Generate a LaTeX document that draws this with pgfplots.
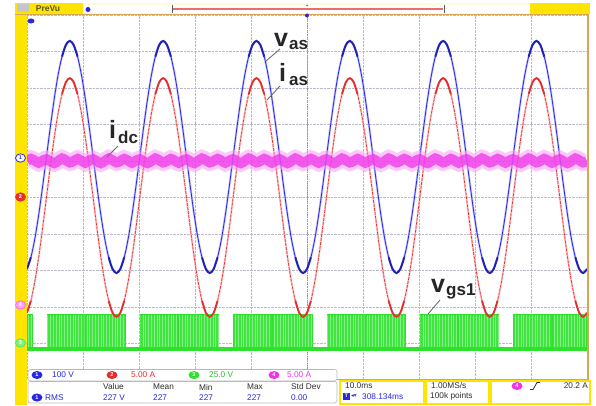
\documentclass[border=0pt]{standalone}
\usepackage{pgfplots}
\pgfplotsset{compat=1.18}
\usepackage{pgfplotstable}
\usepackage{fontspec}
\setmainfont{Liberation Sans}
\newfontfamily\dejavu{DejaVu Sans}
\usetikzlibrary{patterns.meta}

\definecolor{tkblue}{RGB}{40,40,225}
\definecolor{tkbluel}{RGB}{160,160,250}
\definecolor{tkred}{RGB}{230,45,45}
\definecolor{tkredl}{RGB}{250,170,170}
\definecolor{tkmag}{RGB}{240,50,235}
\definecolor{tkmagl}{RGB}{250,160,245}
\definecolor{tkgreen}{RGB}{45,225,45}
\definecolor{tkgreenl}{RGB}{130,240,130}
\definecolor{tkyellow}{RGB}{255,228,0}
\definecolor{tktan}{RGB}{215,165,85}
\definecolor{hdr}{RGB}{255,250,215}
\definecolor{gridc}{RGB}{185,185,200}
\definecolor{lead}{RGB}{110,110,110}
\definecolor{txt}{RGB}{45,45,45}

\pgfplotstableread{
t vas ias idc
0 3.04 1.84 6.00
15 3.36 2.17 6.06
30 3.86 2.69 6.01
45 4.52 3.36 5.95
60 5.29 4.15 6.01
75 6.11 5.00 6.05
90 6.93 5.85 5.99
105 7.70 6.64 5.94
120 8.36 7.31 6.00
135 8.86 7.83 6.07
150 9.18 8.16 6.02
165 9.29 8.27 5.96
180 9.18 8.16 6.00
195 8.86 7.83 6.06
210 8.36 7.31 6.01
225 7.70 6.64 5.95
240 6.93 5.85 6.01
255 6.11 5.00 6.05
270 5.29 4.15 5.99
285 4.52 3.36 5.94
300 3.86 2.69 6.00
315 3.36 2.17 6.07
330 3.04 1.84 6.02
345 2.93 1.73 5.96
360 3.04 1.84 6.00
375 3.36 2.17 6.06
390 3.86 2.69 6.01
405 4.52 3.36 5.95
420 5.29 4.15 6.01
435 6.11 5.00 6.05
450 6.93 5.85 5.99
465 7.70 6.64 5.94
480 8.36 7.31 6.00
495 8.86 7.83 6.07
510 9.18 8.16 6.02
525 9.29 8.27 5.96
540 9.18 8.16 6.00
555 8.86 7.83 6.06
570 8.36 7.31 6.01
585 7.70 6.64 5.95
600 6.93 5.85 6.01
615 6.11 5.00 6.05
630 5.29 4.15 5.99
645 4.52 3.36 5.94
660 3.86 2.69 6.00
675 3.36 2.17 6.07
690 3.04 1.84 6.02
705 2.93 1.73 5.96
720 3.04 1.84 6.00
735 3.36 2.17 6.06
750 3.86 2.69 6.01
765 4.52 3.36 5.95
780 5.29 4.15 6.01
795 6.11 5.00 6.05
810 6.93 5.85 5.99
825 7.70 6.64 5.94
840 8.36 7.31 6.00
855 8.86 7.83 6.07
870 9.18 8.16 6.02
885 9.29 8.27 5.96
900 9.18 8.16 6.00
915 8.86 7.83 6.06
930 8.36 7.31 6.01
945 7.70 6.64 5.95
960 6.93 5.85 6.01
975 6.11 5.00 6.05
990 5.29 4.15 5.99
1005 4.52 3.36 5.94
1020 3.86 2.69 6.00
1035 3.36 2.17 6.07
1050 3.04 1.84 6.02
1065 2.93 1.73 5.96
1080 3.04 1.84 6.00
1095 3.36 2.17 6.06
1110 3.86 2.69 6.01
1125 4.52 3.36 5.95
1140 5.29 4.15 6.01
1155 6.11 5.00 6.05
1170 6.93 5.85 5.99
1185 7.70 6.64 5.94
1200 8.36 7.31 6.00
1215 8.86 7.83 6.07
1230 9.18 8.16 6.02
1245 9.29 8.27 5.96
1260 9.18 8.16 6.00
1275 8.86 7.83 6.06
1290 8.36 7.31 6.01
1305 7.70 6.64 5.95
1320 6.93 5.85 6.01
1335 6.11 5.00 6.05
1350 5.29 4.15 5.99
1365 4.52 3.36 5.94
1380 3.86 2.69 6.00
1395 3.36 2.17 6.07
1410 3.04 1.84 6.02
1425 2.93 1.73 5.96
1440 3.04 1.84 6.00
1455 3.36 2.17 6.06
1470 3.86 2.69 6.01
1485 4.52 3.36 5.95
1500 5.29 4.15 6.01
1515 6.11 5.00 6.05
1530 6.93 5.85 5.99
1545 7.70 6.64 5.94
1560 8.36 7.31 6.00
1575 8.86 7.83 6.07
1590 9.18 8.16 6.02
1605 9.29 8.27 5.96
1620 9.18 8.16 6.00
1635 8.86 7.83 6.06
1650 8.36 7.31 6.01
1665 7.70 6.64 5.95
1680 6.93 5.85 6.01
1695 6.11 5.00 6.05
1710 5.29 4.15 5.99
1725 4.52 3.36 5.94
1740 3.86 2.69 6.00
1755 3.36 2.17 6.07
1770 3.04 1.84 6.02
1785 2.93 1.73 5.96
1800 3.04 1.84 6.00
1815 3.36 2.17 6.06
1830 3.86 2.69 6.01
1845 4.52 3.36 5.95
1860 5.29 4.15 6.01
1875 6.11 5.00 6.05
1890 6.93 5.85 5.99
1905 7.70 6.64 5.94
1920 8.36 7.31 6.00
1935 8.86 7.83 6.07
1950 9.18 8.16 6.02
1965 9.29 8.27 5.96
1980 9.18 8.16 6.00
1995 8.86 7.83 6.06
2010 8.36 7.31 6.01
2025 7.70 6.64 5.95
2040 6.93 5.85 6.01
2055 6.11 5.00 6.05
2070 5.29 4.15 5.99
2085 4.52 3.36 5.94
2100 3.86 2.69 6.00
2115 3.36 2.17 6.07
2130 3.04 1.84 6.02
2145 2.93 1.73 5.96
2160 3.04 1.84 6.00
}\traces

\pgfplotstableread{
t v
0 0.85
0 1.78
20 0.85
78 1.78
222 0.85
226 1.78
380 0.85
438 1.78
582 0.85
586 1.78
740 0.85
798 1.78
942 0.85
946 1.78
1100 0.85
1158 1.78
1302 0.85
1306 1.78
1460 0.85
1518 1.78
1662 0.85
1666 1.78
1820 0.85
1878 1.78
2022 0.85
2026 1.78
2160 0.85
}\gate

\newcommand\chip[4]{\fill[#3] (#1,#2) ellipse (5.5pt and 4pt);
  \node[text=white,inner sep=0,font=\fontsize{5.5}{5.5}\selectfont\bfseries] at (#1,#2) {#4};}

\begin{document}
\begin{tikzpicture}
\useasboundingbox (0,0) rectangle (596pt,405pt);
\fill[white] (0,0) rectangle (596pt,405pt);
\begin{axis}[at={(27pt,25pt)}, anchor=south west, scale only axis,
  width=560pt, height=365pt, xmin=0, xmax=2160, ymin=0, ymax=10,
  xtick={0,216,...,2160}, ytick={0,1,...,10},
  xticklabels={}, yticklabels={}, major tick length=0pt,
  grid=major, grid style={gridc, densely dotted, line width=0.7pt},
  axis line style={draw=none}]
\draw[tkblue!55, densely dotted, line width=0.8pt] (axis cs:1080,0) -- (axis cs:1080,10);
% gate signal vgs1
\addplot[const plot, fill=tkgreen!90!white, draw=tkgreen, line width=1.2pt] table[x=t,y=v] {\gate};
\addplot[const plot, draw=none, pattern={Lines[angle=90,distance=2.8pt,line width=0.35pt]}, pattern color=tkgreenl] table[x=t,y=v] {\gate};
\addplot[tkgreen, line width=3.2pt] coordinates {(0,0.85) (2160,0.85)};
% vas
\addplot[smooth, tkbluel, line width=2.2pt, opacity=0.6] table[x=t,y=vas] {\traces};
\addplot[smooth, tkblue, line width=0.8pt] table[x=t,y=vas] {\traces};
\addplot[smooth, tkblue!80!black, line width=1.9pt, restrict y to domain=8.8:10, unbounded coords=jump] table[x=t,y=vas] {\traces};
\addplot[smooth, tkblue!80!black, line width=1.9pt, restrict y to domain=0:3.4, unbounded coords=jump] table[x=t,y=vas] {\traces};
% ias
\addplot[smooth, tkredl, line width=2pt, opacity=0.6] table[x=t,y=ias] {\traces};
\addplot[smooth, tkred, line width=0.7pt, dash pattern=on 3pt off 1pt] table[x=t,y=ias] {\traces};
\addplot[smooth, tkred, line width=1.8pt, restrict y to domain=7.8:10, unbounded coords=jump] table[x=t,y=ias] {\traces};
\addplot[smooth, tkred, line width=1.8pt, restrict y to domain=0:2.2, unbounded coords=jump] table[x=t,y=ias] {\traces};
% idc
\addplot[smooth, tkmagl, line width=17pt, opacity=0.55] table[x=t,y=idc] {\traces};
\addplot[smooth, tkmag, line width=10pt, opacity=0.75] table[x=t,y=idc] {\traces};
\end{axis}

\begin{scope}[x=1pt,y=-1pt,yshift=405pt, font=\fontsize{8.3}{9}\selectfont]
% left strip
\fill[tkyellow] (15,3) rectangle (27,405);
% header bar
\fill[hdr] (83,3) rectangle (590,14);
\fill[white] (83,5.5) rectangle (530,13);
\fill[tkyellow] (15,3) rectangle (83,14);
\fill[tkyellow] (530,3.5) rectangle (590,14);
\fill[gray!45] (16.5,4.5) rectangle (29,12.5);
\node[inner sep=0, text=olive!50!black, font=\fontsize{8.5}{8.5}\selectfont\bfseries] at (48,8.5) {PreVu};
\draw[tkred!70, line width=2pt] (173,9.5) -- (443,9.5);
\draw[gray!70!black, line width=0.9pt] (172,5) -- (172,13.5) (444,5) -- (444,13.5);
\fill[tkblue] (88,9.5) circle (2.5pt);
\draw[tktan, line width=1.3pt] (15,14.5) -- (589,14.5);
\draw[tktan, line width=1.2pt] (588,14.5) -- (588,380);
\fill[gray] (307,5.5) circle (1pt);
\fill[tkblue] (307,15.5) circle (2pt);
\fill[tkblue] (31,21) ellipse (3.5pt and 2.5pt);
% left channel markers
\filldraw[fill=white, draw=tkblue, line width=0.8pt] (20.5,158) ellipse (5pt and 4.2pt);
\node[text=tkblue, font=\fontsize{5.5}{5.5}\selectfont\bfseries, inner sep=0] at (20.5,158) {1};
\filldraw[fill=tkred, draw=tkred, line width=0.8pt] (20.5,197) ellipse (5pt and 4.2pt);
\node[text=white, font=\fontsize{5.5}{5.5}\selectfont\bfseries, inner sep=0] at (20.5,197) {2};
\filldraw[fill=tkmagl, draw=tkmag!70, line width=0.8pt] (20.5,305) ellipse (5pt and 4.2pt);
\node[text=white, font=\fontsize{5.5}{5.5}\selectfont\bfseries, inner sep=0] at (20.5,305) {4};
\filldraw[fill=tkgreenl, draw=tkgreen!80, line width=0.8pt] (20.5,343) ellipse (5pt and 4.2pt);
\node[text=white, font=\fontsize{5.5}{5.5}\selectfont\bfseries, inner sep=0] at (20.5,343) {3};
% trace labels
\node[anchor=base west, inner sep=0, font=\fontsize{25}{25}\selectfont\bfseries, text=black!85] at (274,47) {v};
\node[anchor=base west, inner sep=0, font=\fontsize{17}{17}\selectfont\bfseries, text=black!85] at (289,50) {as};
\draw[lead, line width=0.9pt] (280,49) -- (266,61);
\node[anchor=base west, inner sep=0, font=\fontsize{25}{25}\selectfont\bfseries, text=black!85] at (279,82) {i};
\node[anchor=base west, inner sep=0, font=\fontsize{17}{17}\selectfont\bfseries, text=black!85] at (289,86) {as};
\draw[lead, line width=0.9pt] (280,86) -- (267,100);
\node[anchor=base west, inner sep=0, font=\fontsize{25}{25}\selectfont\bfseries, text=black!85] at (109,138) {i};
\node[anchor=base west, inner sep=0, font=\fontsize{17}{17}\selectfont\bfseries, text=black!85] at (118,143) {dc};
\draw[lead, line width=0.9pt] (118,146) -- (107,157);
\node[anchor=base west, inner sep=0, font=\fontsize{25}{25}\selectfont\bfseries, text=black!85] at (431,292) {v};
\node[anchor=base west, inner sep=0, font=\fontsize{17}{17}\selectfont\bfseries, text=black!85] at (446,295) {gs1};
\draw[lead, line width=0.9pt] (440,300) -- (428,314);
% bottom panel
\fill[white] (27,380) rectangle (596,405);
\filldraw[fill=white, draw=gray!55, rounded corners=2.5pt, line width=0.6pt] (28,369.5) rectangle (337,381);
\draw[tktan, line width=1pt] (337,379.5) -- (588,379.5);
\draw[gray!55, rounded corners=2.5pt, line width=0.6pt] (28,381.5) rectangle (337,403);
\draw[tkyellow, line width=2pt] (340,381) rectangle (424,404);
\draw[tkyellow, line width=2pt] (426,381) rectangle (489,404);
\draw[tkyellow, line width=2pt] (491,381) rectangle (590,404);
% channel settings
\chip{37}{375}{tkblue}{1}
\node[anchor=west, text=tkblue, inner sep=0] at (52,375) {100 V};
\chip{112}{375}{tkred}{2}
\node[anchor=west, text=tkred, inner sep=0] at (131,375) {5.00 A};
\chip{194}{375}{tkgreen}{3}
\node[anchor=west, text=tkgreen!85!black, inner sep=0] at (209,375) {25.0 V};
\chip{274}{375}{tkmag}{4}
\node[anchor=west, text=tkmag, inner sep=0] at (287,375) {5.00 A};
% measurement
\chip{37}{397.5}{tkblue}{1}
\node[anchor=west, text=tkblue, inner sep=0] at (45,397.5) {RMS};
\node[anchor=west, text=txt, inner sep=0] at (103,387) {Value};
\node[anchor=west, text=txt, inner sep=0] at (153,387) {Mean};
\node[anchor=west, text=txt, inner sep=0] at (199,387) {Min};
\node[anchor=west, text=txt, inner sep=0] at (247,387) {Max};
\node[anchor=west, text=txt, inner sep=0] at (291,387) {Std Dev};
\node[anchor=west, text=tkblue, inner sep=0] at (103,397.5) {227 V};
\node[anchor=west, text=tkblue, inner sep=0] at (153,397.5) {227};
\node[anchor=west, text=tkblue, inner sep=0] at (199,397.5) {227};
\node[anchor=west, text=tkblue, inner sep=0] at (247,397.5) {227};
\node[anchor=west, text=tkblue, inner sep=0] at (291,397.5) {0.00};
% time base
\node[anchor=west, text=txt, inner sep=0] at (345,386) {10.0ms};
\fill[tkblue] (343,392.5) rectangle (350,399.5);
\node[text=white, inner sep=0, font=\fontsize{5}{5}\selectfont\bfseries] at (346.5,396) {T};
\node[anchor=west, text=tkblue, inner sep=0, font=\dejavu\fontsize{5.5}{5.5}\selectfont] at (351,396) {◂▾};
\node[anchor=west, text=tkblue, inner sep=0] at (362,396.5) {308.134ms};
\node[anchor=west, text=txt, inner sep=0] at (431,386) {1.00MS/s};
\node[anchor=west, text=txt, inner sep=0] at (430,396.5) {100k points};
\chip{517}{386}{tkmag}{4}
\draw[txt, line width=0.8pt] (530,389.5) -- (533,389.5) -- (537,382.5) -- (540,382.5);
\node[anchor=east, text=txt, inner sep=0] at (588,386) {20.2 A};
\end{scope}
\end{tikzpicture}
\end{document}
